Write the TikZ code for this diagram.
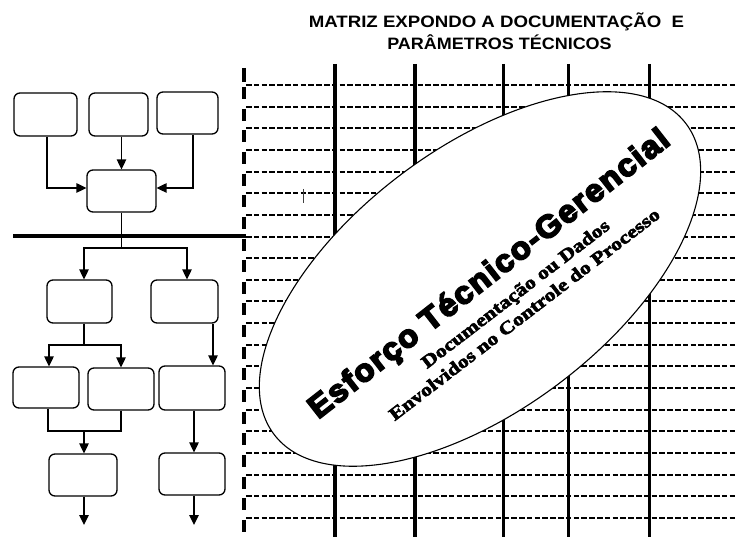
\documentclass[tikz,border=0pt]{standalone}
\usepackage{graphicx}
\usepackage{fontspec}
\setmainfont{Liberation Sans}
\newfontfamily\blackfont{Liberation Sans}[BoldFeatures={FakeBold=5.5}, LetterSpace=5]
\newfontfamily\serifb{Liberation Serif}[BoldFeatures={FakeBold=3}]
\usetikzlibrary{arrows.meta,shapes.geometric}
\begin{document}
\begin{tikzpicture}[x=1pt,y=-1pt,
  box/.style={draw, line width=1.3pt, rounded corners=6pt, inner sep=0pt},
  ln/.style={line width=1.4pt},
  arr/.style={line width=1.4pt, -{Triangle[length=10pt,width=9.5pt]}},
  hdash/.style={line width=2pt, dash pattern=on 5.6pt off 2.2pt},
  vsolid/.style={line width=3.4pt},
  vdash/.style={line width=3.6pt},
  txt/.style={inner sep=0pt, anchor=base}]
\useasboundingbox (0,0) rectangle (737,537);
\fill[white] (0,0) rectangle (737,537);

% title
\node[txt] (ttl1) at (496.5,28) {\scalebox{1.13}[1]{\bfseries\fontsize{16.5}{16.5}\selectfont MATRIZ EXPONDO A DOCUMENTAÇÃO\ \ E}};
\node[txt] (ttl2) at (499.5,50) {\scalebox{1.09}[1]{\bfseries\fontsize{16.5}{16.5}\selectfont PARÂMETROS TÉCNICOS}};

% grid
\foreach \i in {0,...,20}
  \draw[hdash] (246,{85+21.65*\i}) -- (737,{85+21.65*\i});
\foreach \x in {335,415,503.5,568.5,649.5}
  \draw[vsolid] (\x,64) -- (\x,537);
\draw[vdash] (244,68) -- (244,82.5);
\draw[vdash, dash pattern=on 12pt off 9.65pt] (244,87) -- (244,537);
\draw[line width=0.8pt, black!75] (303,189) -- (303,203);

% ellipse with texts
\node[ellipse, draw, fill=white, line width=1.1pt, minimum width=516pt,
      minimum height=262pt, rotate=37, inner sep=0pt] (ell) at (480,279) {};
\node[txt, rotate=38] (big) at (495,281.5)
  {\scalebox{1.03}[1]{\blackfont\bfseries\fontsize{31.5}{31.5}\selectfont Esforço Técnico-Gerencial}};
\node[txt, rotate=37.5] (l1) at (519,298.5)
  {\scalebox{1.22}[1]{\serifb\bfseries\fontsize{18}{18}\selectfont Documentação ou Dados}};
\node[txt, rotate=37.5] (l2) at (528,319)
  {\scalebox{1.22}[1]{\serifb\bfseries\fontsize{18}{18}\selectfont Envolvidos no Controle do Processo}};

% thick separator
\coordinate (sepL) at (13,236.3);
\coordinate (sepR) at (246,236.3);
\draw[line width=4pt] (sepL) -- (sepR);

% flowchart boxes
\node[box, minimum width=63pt, minimum height=43pt] (A) at (45.5,114.5) {};
\node[box, minimum width=59pt, minimum height=43pt] (B) at (118.5,114.5) {};
\node[box, minimum width=61pt, minimum height=42pt] (C) at (187.5,113) {};
\node[box, minimum width=69pt, minimum height=42pt] (D) at (121.5,191) {};
\node[box, minimum width=65pt, minimum height=43pt] (E) at (79.5,301.5) {};
\node[box, minimum width=67pt, minimum height=43pt] (F) at (184.5,301.5) {};
\node[box, minimum width=66pt, minimum height=41pt] (G) at (46,387.5) {};
\node[box, minimum width=66pt, minimum height=42pt] (H) at (121,389) {};
\node[box, minimum width=66pt, minimum height=44pt] (I) at (192,388) {};
\node[box, minimum width=68pt, minimum height=42pt] (J) at (83,475) {};
\node[box, minimum width=66pt, minimum height=42pt] (K) at (192,474) {};

% connectors
\draw[arr] ([xshift=1.5pt]A.south) |- ([yshift=3pt]D.west);
\draw[arr] (B.south -| D.north) -- (D.north);
\draw[arr] ([xshift=5.5pt]C.south) |- ([yshift=3pt]D.east);
\coordinate (s1) at (121.5,248);
\draw[ln] (D.south) -- (s1);
\draw[arr] (s1) -| ([xshift=4.5pt]E.north);
\draw[arr] (s1) -| ([xshift=2.5pt]F.north);
\coordinate (s2) at (84,345);
\draw[ln] ([xshift=4.5pt]E.south) -- (s2);
\draw[arr] (s2) -| ([xshift=3pt]G.north);
\draw[arr] (s2) -| (H.north);
\draw[arr] ([xshift=28.5pt]F.south) -- ([xshift=21pt]I.north);
\coordinate (s3) at (84,431);
\draw[ln] ([xshift=2pt]G.south) |- (s3);
\draw[ln] (H.south) |- (s3);
\draw[arr] (s3) -- ([xshift=1pt]J.north);
\draw[arr] ([xshift=2pt]I.south) -- ([xshift=2pt]K.north);
\coordinate (e1) at (84,525);
\coordinate (e2) at (194,525);
\draw[arr] ([xshift=1pt]J.south) -- (e1);
\draw[arr] ([xshift=2pt]K.south) -- (e2);
\end{tikzpicture}
\end{document}
